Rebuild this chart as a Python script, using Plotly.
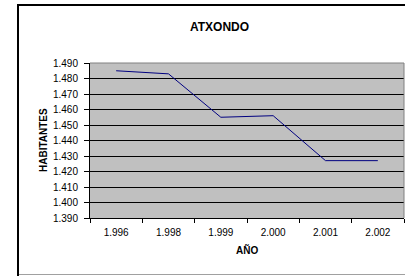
import plotly.graph_objects as go

years = ["1.996", "1.998", "1.999", "2.000", "2.001", "2.002"]
habitantes = [1485, 1483, 1455, 1456, 1427, 1427]
y_ticks = [1390, 1400, 1410, 1420, 1430, 1440, 1450, 1460, 1470, 1480, 1490]

W, H = 405, 276
L, R, T, B = 90, 1, 63, 58
PW, PH = W - L - R, H - T - B


def px(x):
    return (x - L) / PW


def py(y):
    return (H - B - y) / PH


fig = go.Figure()
fig.add_trace(go.Scatter(
    x=years, y=habitantes, mode="lines",
    line=dict(color="#000080", width=1),
    showlegend=False, hoverinfo="skip",
))

font = "Liberation Sans, Arial, sans-serif"

fig.update_layout(
    width=W, height=H,
    margin=dict(l=L, r=R, t=T, b=B, pad=0),
    paper_bgcolor="white",
    plot_bgcolor="#C0C0C0",
    separators=",.",
    font=dict(family=font, color="black", size=10),
    xaxis=dict(
        type="category",
        tickson="boundaries",
        ticks="outside", ticklen=4, tickwidth=1, tickcolor="black",
        showline=True, linecolor="black", linewidth=1,
        showgrid=False, zeroline=False,
        tickfont=dict(size=10, family=font),
        ticklabelstandoff=5,
        range=[-0.5, 5.5],
    ),
    yaxis=dict(
        range=[1390, 1490],
        tickvals=y_ticks,
        tickformat=",d",
        ticks="outside", ticklen=5, tickwidth=1, tickcolor="black",
        showline=True, linecolor="black", linewidth=1,
        showgrid=True, gridcolor="black", gridwidth=1,
        zeroline=False,
        tickfont=dict(size=10, family=font),
        ticklabelstandoff=4,
    ),
    shapes=[
        dict(type="line", xref="paper", yref="paper", x0=0, x1=1, y0=1, y1=1,
             line=dict(color="#808080", width=1)),
        dict(type="line", xref="paper", yref="paper", x0=1, x1=1, y0=0, y1=1,
             line=dict(color="#808080", width=1)),
        dict(type="line", xref="paper", yref="paper",
             x0=px(18), x1=px(410), y0=py(5), y1=py(5),
             line=dict(color="black", width=2)),
        dict(type="line", xref="paper", yref="paper",
             x0=px(18), x1=px(18), y0=py(4), y1=py(276),
             line=dict(color="black", width=2)),
        dict(type="line", xref="paper", yref="paper",
             x0=px(19), x1=px(410), y0=py(274.5), y1=py(274.5),
             line=dict(color="#A0A0A0", width=1)),
    ],
    annotations=[
        dict(text="<b>ATXONDO</b>", xref="paper", yref="paper",
             x=px(219), y=py(27),
             xanchor="center", yanchor="middle", showarrow=False,
             font=dict(size=12, family=font)),
        dict(text="<b>HABITANTES</b>", xref="paper", yref="paper",
             x=px(43), y=py(140),
             xanchor="center", yanchor="middle", showarrow=False, textangle=-90,
             font=dict(size=10, family=font)),
        dict(text="<b>AÑO</b>", xref="paper", yref="paper",
             x=px(247), y=py(250),
             xanchor="center", yanchor="middle", showarrow=False,
             font=dict(size=10, family=font)),
    ],
)

fig.write_html("out.html", config={"displayModeBar": False},
               post_script="document.body.style.margin='0';")
